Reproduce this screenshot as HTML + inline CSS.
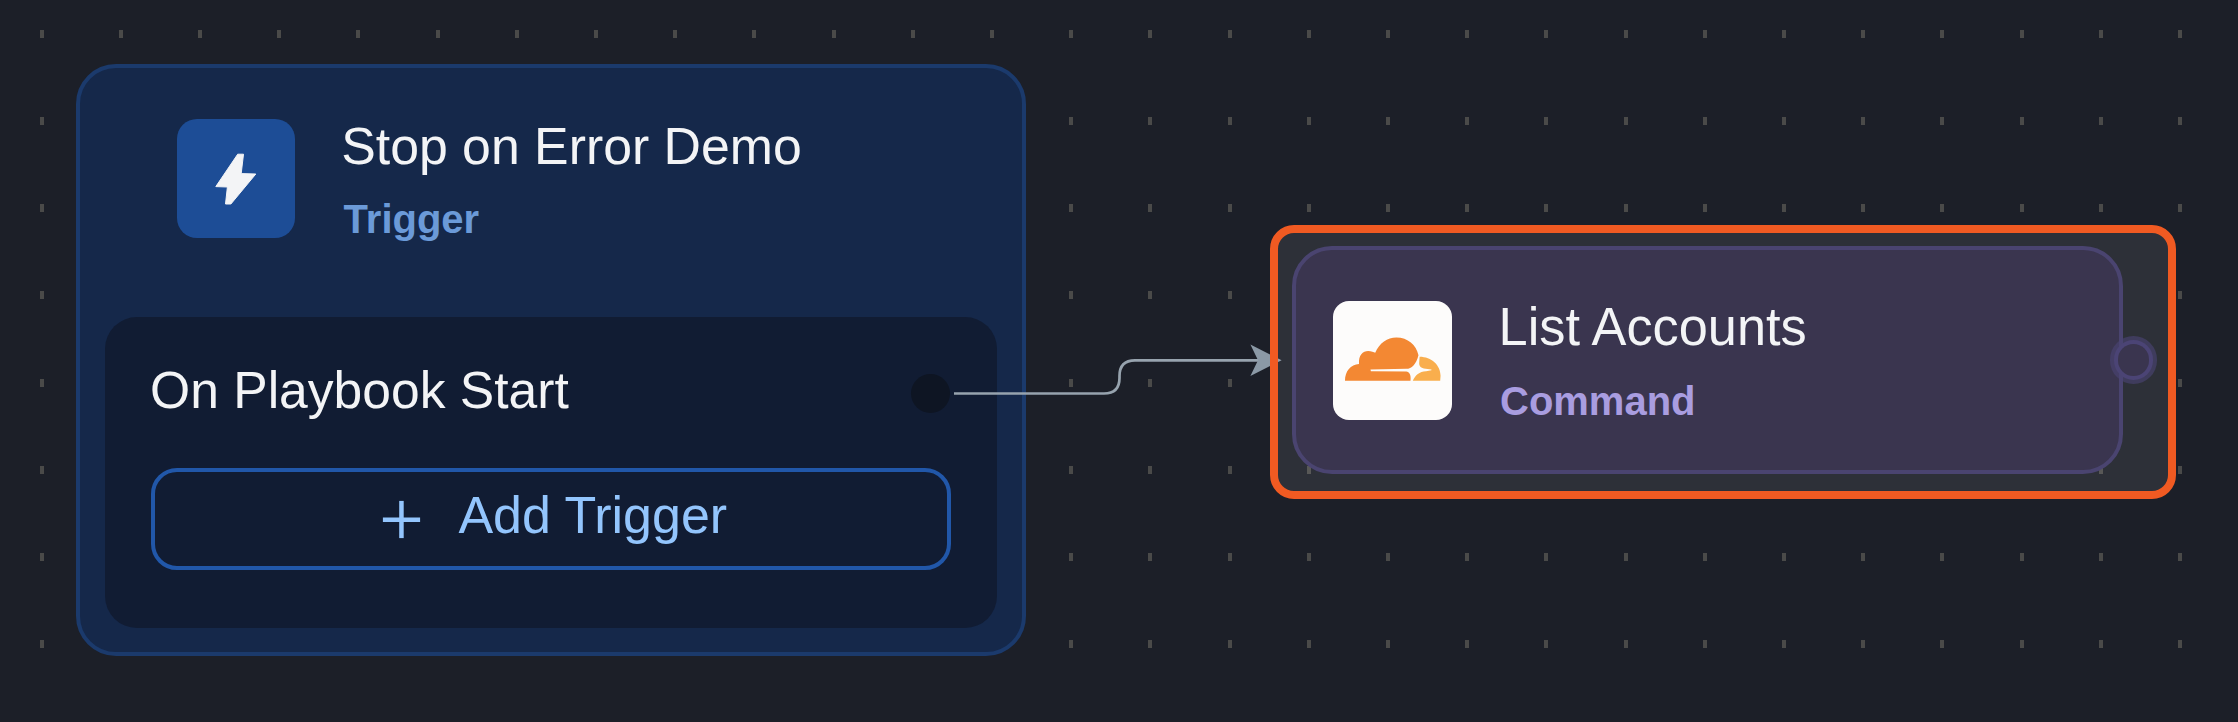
<!DOCTYPE html>
<html><head><meta charset="utf-8"><title>Playbook</title><style>
html,body{margin:0;padding:0;}
body{width:2238px;height:722px;overflow:hidden;background:#1c1f28;position:relative;font-family:"Liberation Sans",sans-serif;}
.abs{position:absolute;box-sizing:border-box;}
svg{position:absolute;left:0;top:0;}
</style></head><body>
<svg width="2238" height="722" viewBox="0 0 2238 722"><g fill="#4a4a49"><rect x="40" y="30" width="4" height="8"/><rect x="119" y="30" width="4" height="8"/><rect x="198" y="30" width="4" height="8"/><rect x="277" y="30" width="4" height="8"/><rect x="356" y="30" width="4" height="8"/><rect x="436" y="30" width="4" height="8"/><rect x="515" y="30" width="4" height="8"/><rect x="594" y="30" width="4" height="8"/><rect x="673" y="30" width="4" height="8"/><rect x="752" y="30" width="4" height="8"/><rect x="832" y="30" width="4" height="8"/><rect x="911" y="30" width="4" height="8"/><rect x="990" y="30" width="4" height="8"/><rect x="1069" y="30" width="4" height="8"/><rect x="1148" y="30" width="4" height="8"/><rect x="1228" y="30" width="4" height="8"/><rect x="1307" y="30" width="4" height="8"/><rect x="1386" y="30" width="4" height="8"/><rect x="1465" y="30" width="4" height="8"/><rect x="1544" y="30" width="4" height="8"/><rect x="1624" y="30" width="4" height="8"/><rect x="1703" y="30" width="4" height="8"/><rect x="1782" y="30" width="4" height="8"/><rect x="1861" y="30" width="4" height="8"/><rect x="1940" y="30" width="4" height="8"/><rect x="2020" y="30" width="4" height="8"/><rect x="2099" y="30" width="4" height="8"/><rect x="2178" y="30" width="4" height="8"/><rect x="40" y="117" width="4" height="8"/><rect x="119" y="117" width="4" height="8"/><rect x="198" y="117" width="4" height="8"/><rect x="277" y="117" width="4" height="8"/><rect x="356" y="117" width="4" height="8"/><rect x="436" y="117" width="4" height="8"/><rect x="515" y="117" width="4" height="8"/><rect x="594" y="117" width="4" height="8"/><rect x="673" y="117" width="4" height="8"/><rect x="752" y="117" width="4" height="8"/><rect x="832" y="117" width="4" height="8"/><rect x="911" y="117" width="4" height="8"/><rect x="990" y="117" width="4" height="8"/><rect x="1069" y="117" width="4" height="8"/><rect x="1148" y="117" width="4" height="8"/><rect x="1228" y="117" width="4" height="8"/><rect x="1307" y="117" width="4" height="8"/><rect x="1386" y="117" width="4" height="8"/><rect x="1465" y="117" width="4" height="8"/><rect x="1544" y="117" width="4" height="8"/><rect x="1624" y="117" width="4" height="8"/><rect x="1703" y="117" width="4" height="8"/><rect x="1782" y="117" width="4" height="8"/><rect x="1861" y="117" width="4" height="8"/><rect x="1940" y="117" width="4" height="8"/><rect x="2020" y="117" width="4" height="8"/><rect x="2099" y="117" width="4" height="8"/><rect x="2178" y="117" width="4" height="8"/><rect x="40" y="204" width="4" height="8"/><rect x="119" y="204" width="4" height="8"/><rect x="198" y="204" width="4" height="8"/><rect x="277" y="204" width="4" height="8"/><rect x="356" y="204" width="4" height="8"/><rect x="436" y="204" width="4" height="8"/><rect x="515" y="204" width="4" height="8"/><rect x="594" y="204" width="4" height="8"/><rect x="673" y="204" width="4" height="8"/><rect x="752" y="204" width="4" height="8"/><rect x="832" y="204" width="4" height="8"/><rect x="911" y="204" width="4" height="8"/><rect x="990" y="204" width="4" height="8"/><rect x="1069" y="204" width="4" height="8"/><rect x="1148" y="204" width="4" height="8"/><rect x="1228" y="204" width="4" height="8"/><rect x="1307" y="204" width="4" height="8"/><rect x="1386" y="204" width="4" height="8"/><rect x="1465" y="204" width="4" height="8"/><rect x="1544" y="204" width="4" height="8"/><rect x="1624" y="204" width="4" height="8"/><rect x="1703" y="204" width="4" height="8"/><rect x="1782" y="204" width="4" height="8"/><rect x="1861" y="204" width="4" height="8"/><rect x="1940" y="204" width="4" height="8"/><rect x="2020" y="204" width="4" height="8"/><rect x="2099" y="204" width="4" height="8"/><rect x="2178" y="204" width="4" height="8"/><rect x="40" y="291" width="4" height="8"/><rect x="119" y="291" width="4" height="8"/><rect x="198" y="291" width="4" height="8"/><rect x="277" y="291" width="4" height="8"/><rect x="356" y="291" width="4" height="8"/><rect x="436" y="291" width="4" height="8"/><rect x="515" y="291" width="4" height="8"/><rect x="594" y="291" width="4" height="8"/><rect x="673" y="291" width="4" height="8"/><rect x="752" y="291" width="4" height="8"/><rect x="832" y="291" width="4" height="8"/><rect x="911" y="291" width="4" height="8"/><rect x="990" y="291" width="4" height="8"/><rect x="1069" y="291" width="4" height="8"/><rect x="1148" y="291" width="4" height="8"/><rect x="1228" y="291" width="4" height="8"/><rect x="1307" y="291" width="4" height="8"/><rect x="1386" y="291" width="4" height="8"/><rect x="1465" y="291" width="4" height="8"/><rect x="1544" y="291" width="4" height="8"/><rect x="1624" y="291" width="4" height="8"/><rect x="1703" y="291" width="4" height="8"/><rect x="1782" y="291" width="4" height="8"/><rect x="1861" y="291" width="4" height="8"/><rect x="1940" y="291" width="4" height="8"/><rect x="2020" y="291" width="4" height="8"/><rect x="2099" y="291" width="4" height="8"/><rect x="2178" y="291" width="4" height="8"/><rect x="40" y="379" width="4" height="8"/><rect x="119" y="379" width="4" height="8"/><rect x="198" y="379" width="4" height="8"/><rect x="277" y="379" width="4" height="8"/><rect x="356" y="379" width="4" height="8"/><rect x="436" y="379" width="4" height="8"/><rect x="515" y="379" width="4" height="8"/><rect x="594" y="379" width="4" height="8"/><rect x="673" y="379" width="4" height="8"/><rect x="752" y="379" width="4" height="8"/><rect x="832" y="379" width="4" height="8"/><rect x="911" y="379" width="4" height="8"/><rect x="990" y="379" width="4" height="8"/><rect x="1069" y="379" width="4" height="8"/><rect x="1148" y="379" width="4" height="8"/><rect x="1228" y="379" width="4" height="8"/><rect x="1307" y="379" width="4" height="8"/><rect x="1386" y="379" width="4" height="8"/><rect x="1465" y="379" width="4" height="8"/><rect x="1544" y="379" width="4" height="8"/><rect x="1624" y="379" width="4" height="8"/><rect x="1703" y="379" width="4" height="8"/><rect x="1782" y="379" width="4" height="8"/><rect x="1861" y="379" width="4" height="8"/><rect x="1940" y="379" width="4" height="8"/><rect x="2020" y="379" width="4" height="8"/><rect x="2099" y="379" width="4" height="8"/><rect x="2178" y="379" width="4" height="8"/><rect x="40" y="466" width="4" height="8"/><rect x="119" y="466" width="4" height="8"/><rect x="198" y="466" width="4" height="8"/><rect x="277" y="466" width="4" height="8"/><rect x="356" y="466" width="4" height="8"/><rect x="436" y="466" width="4" height="8"/><rect x="515" y="466" width="4" height="8"/><rect x="594" y="466" width="4" height="8"/><rect x="673" y="466" width="4" height="8"/><rect x="752" y="466" width="4" height="8"/><rect x="832" y="466" width="4" height="8"/><rect x="911" y="466" width="4" height="8"/><rect x="990" y="466" width="4" height="8"/><rect x="1069" y="466" width="4" height="8"/><rect x="1148" y="466" width="4" height="8"/><rect x="1228" y="466" width="4" height="8"/><rect x="1307" y="466" width="4" height="8"/><rect x="1386" y="466" width="4" height="8"/><rect x="1465" y="466" width="4" height="8"/><rect x="1544" y="466" width="4" height="8"/><rect x="1624" y="466" width="4" height="8"/><rect x="1703" y="466" width="4" height="8"/><rect x="1782" y="466" width="4" height="8"/><rect x="1861" y="466" width="4" height="8"/><rect x="1940" y="466" width="4" height="8"/><rect x="2020" y="466" width="4" height="8"/><rect x="2099" y="466" width="4" height="8"/><rect x="2178" y="466" width="4" height="8"/><rect x="40" y="553" width="4" height="8"/><rect x="119" y="553" width="4" height="8"/><rect x="198" y="553" width="4" height="8"/><rect x="277" y="553" width="4" height="8"/><rect x="356" y="553" width="4" height="8"/><rect x="436" y="553" width="4" height="8"/><rect x="515" y="553" width="4" height="8"/><rect x="594" y="553" width="4" height="8"/><rect x="673" y="553" width="4" height="8"/><rect x="752" y="553" width="4" height="8"/><rect x="832" y="553" width="4" height="8"/><rect x="911" y="553" width="4" height="8"/><rect x="990" y="553" width="4" height="8"/><rect x="1069" y="553" width="4" height="8"/><rect x="1148" y="553" width="4" height="8"/><rect x="1228" y="553" width="4" height="8"/><rect x="1307" y="553" width="4" height="8"/><rect x="1386" y="553" width="4" height="8"/><rect x="1465" y="553" width="4" height="8"/><rect x="1544" y="553" width="4" height="8"/><rect x="1624" y="553" width="4" height="8"/><rect x="1703" y="553" width="4" height="8"/><rect x="1782" y="553" width="4" height="8"/><rect x="1861" y="553" width="4" height="8"/><rect x="1940" y="553" width="4" height="8"/><rect x="2020" y="553" width="4" height="8"/><rect x="2099" y="553" width="4" height="8"/><rect x="2178" y="553" width="4" height="8"/><rect x="40" y="640" width="4" height="8"/><rect x="119" y="640" width="4" height="8"/><rect x="198" y="640" width="4" height="8"/><rect x="277" y="640" width="4" height="8"/><rect x="356" y="640" width="4" height="8"/><rect x="436" y="640" width="4" height="8"/><rect x="515" y="640" width="4" height="8"/><rect x="594" y="640" width="4" height="8"/><rect x="673" y="640" width="4" height="8"/><rect x="752" y="640" width="4" height="8"/><rect x="832" y="640" width="4" height="8"/><rect x="911" y="640" width="4" height="8"/><rect x="990" y="640" width="4" height="8"/><rect x="1069" y="640" width="4" height="8"/><rect x="1148" y="640" width="4" height="8"/><rect x="1228" y="640" width="4" height="8"/><rect x="1307" y="640" width="4" height="8"/><rect x="1386" y="640" width="4" height="8"/><rect x="1465" y="640" width="4" height="8"/><rect x="1544" y="640" width="4" height="8"/><rect x="1624" y="640" width="4" height="8"/><rect x="1703" y="640" width="4" height="8"/><rect x="1782" y="640" width="4" height="8"/><rect x="1861" y="640" width="4" height="8"/><rect x="1940" y="640" width="4" height="8"/><rect x="2020" y="640" width="4" height="8"/><rect x="2099" y="640" width="4" height="8"/><rect x="2178" y="640" width="4" height="8"/></g></svg>

<div class="abs" style="left:75.5px;top:64px;width:950.5px;height:591.5px;border:4.5px solid #1b3a6c;border-radius:40px;background:#15284a;"></div>
<div class="abs" style="left:177px;top:119px;width:118px;height:119px;border-radius:20px;background:#1d4d96;"></div>
<div class="abs" style="left:104.5px;top:317px;width:892.5px;height:311px;border-radius:32px;background:#111c33;"></div>
<div class="abs" style="left:910.8px;top:373.8px;width:39.4px;height:39.4px;border-radius:50%;background:#0e1523;"></div>
<div class="abs" style="left:150.7px;top:468px;width:800px;height:102px;border:4.3px solid #2157a9;border-radius:26px;"></div>

<svg width="2238" height="722" viewBox="0 0 2238 722">
<path d="M954 393.5 H1104 Q1119.5 393.5 1119.5 378 V376 Q1119.5 360.3 1135 360.3 H1262" fill="none" stroke="#97a3ae" stroke-width="2.7"/>
<polygon points="1250.4,344.6 1281.6,360.3 1250.4,375.9 1258,360.2" fill="#8b99a6"/>
</svg>

<div class="abs" style="left:1270px;top:225px;width:906px;height:273.5px;border:8px solid #f05a22;border-radius:24px;background:rgba(255,255,255,0.08);"></div>
<div class="abs" style="left:1292px;top:246px;width:831px;height:228px;border:4px solid #4a4470;border-radius:40px;background:#3a354f;"></div>
<div class="abs" style="left:1333px;top:301px;width:119px;height:119px;border-radius:16px;background:#fdfcfb;"></div>
<div class="abs" style="left:2109.9px;top:336.4px;width:47.2px;height:47.2px;border-radius:50%;background:rgba(75,67,116,0.62);"></div>
<div class="abs" style="left:2113.8px;top:340.3px;width:39.4px;height:39.4px;border-radius:50%;background:#4b4475;"></div>
<div class="abs" style="left:2117.7px;top:344.2px;width:31.6px;height:31.6px;border-radius:50%;background:#3a354f;"></div>

<svg width="2238" height="722" viewBox="0 0 2238 722" style="font-family:'Liberation Sans',sans-serif">
<path d="M237.7 154.2 L243.5 154.2 L241.2 173.6 L255.8 174 L230.9 204 L225.5 204 L227.4 187 L215.8 186.6 Z" fill="#f3f4f6" stroke="#f3f4f6" stroke-width="1" stroke-linejoin="round"/>
<text transform="translate(341.2,163.6) scale(1,1.01)" font-size="51.8" fill="#f3f4f6">Stop on Error Demo</text>
<text transform="translate(343.6,233.1) scale(1,1.01)" font-size="40" font-weight="bold" fill="#6b9ad8">Trigger</text>
<text transform="translate(150.1,408.2) scale(1,1.01)" font-size="51.6" fill="#f3f4f6">On Playbook Start</text>
<rect x="382.9" y="517.5" width="37.2" height="4.5" fill="#93c5fd"/>
<rect x="399.2" y="500.9" width="4.5" height="37.2" fill="#93c5fd"/>
<text transform="translate(458.4,533.2) scale(1,1.01)" font-size="52" fill="#93c5fd">Add Trigger</text>
<text transform="translate(1498.6,345.1) scale(1,1.01)" font-size="52.3" fill="#f3f4f6">List Accounts</text>
<text transform="translate(1500,414.7) scale(1,1.01)" font-size="40" font-weight="bold" fill="#a99de0">Command</text>
<svg x="1340" y="330" width="105" height="55" viewBox="0 0 1378 722">
<path fill="#f38833" d="M65 665 C65 540 140 450 250 445 C240 330 300 275 370 275 C410 275 445 290 462 300 C520 170 620 100 740 100 C890 100 1000 200 1030 330 C1000 450 940 510 870 510 L400 520 L405 540 L870 545 C910 550 935 590 925 665 Z"/>
<path fill="#f9ae4d" d="M955 665 C990 590 1040 545 1130 540 L1200 530 L1200 520 L1100 505 C1050 495 1035 460 1040 420 L1045 350 C1200 350 1320 460 1320 600 L1315 665 Z"/>
</svg>
</svg>
</body></html>
